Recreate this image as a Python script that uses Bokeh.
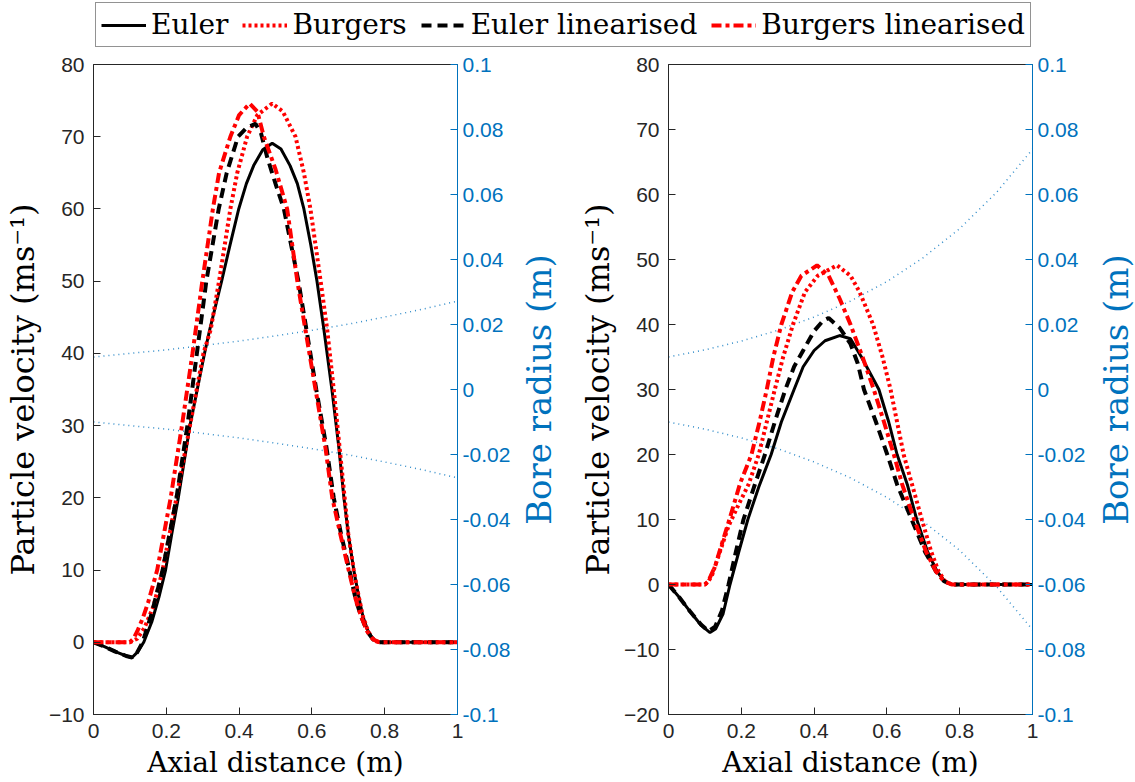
import math
from bokeh.plotting import figure
from bokeh.models import Range1d, LinearAxis, FixedTicker, Legend, LegendItem
from bokeh.core.properties import value
from bokeh.layouts import column, row
from bokeh.embed import file_html
from bokeh.resources import INLINE

# ---------------- data: left panel ----------------
L_euler_x = [0, 0.03, 0.06, 0.09, 0.106, 0.12, 0.138, 0.16, 0.18, 0.198, 0.215, 0.233, 0.265, 0.305, 0.318,
             0.352, 0.375, 0.399, 0.42, 0.44, 0.465, 0.491, 0.515, 0.54, 0.56, 0.578, 0.597, 0.614, 0.633,
             0.655, 0.674, 0.688, 0.70, 0.715, 0.728, 0.74, 0.753, 0.765, 0.778, 0.79, 0.9, 1.0]
L_euler_v = [0, -0.6, -1.3, -1.9, -2.1, -1.4, 0, 2.8, 6.3, 10, 15, 20, 30, 40, 43,
             50, 55, 60, 63.5, 66, 68.2, 69.1, 68.3, 66, 63.5, 60, 55, 50, 43.3,
             35, 27, 20, 15, 10, 6.5, 3.6, 1.7, 0.6, 0.1, 0, 0, 0]

L_burg_x = [0, 0.10, 0.12, 0.14, 0.165, 0.19, 0.228, 0.265, 0.302, 0.322, 0.345, 0.376, 0.395, 0.422, 0.45,
            0.491, 0.52, 0.555, 0.578, 0.596, 0.624, 0.642, 0.66, 0.676, 0.69, 0.70, 0.715, 0.728, 0.74,
            0.753, 0.765, 0.778, 0.79, 1.0]
L_burg_v = [0, 0, 0.5, 2, 5, 10, 20, 30, 40, 43.3, 50, 60, 65, 70, 73,
            74.6, 73.5, 70, 65, 60, 50, 43.3, 35, 27, 20, 15, 10, 6.5, 3.6,
            1.7, 0.6, 0.1, 0, 0]

L_elin_x = [0, 0.03, 0.06, 0.09, 0.106, 0.12, 0.135, 0.16, 0.19, 0.228, 0.258, 0.284, 0.31, 0.344, 0.366,
            0.397, 0.42, 0.445, 0.46, 0.477, 0.50, 0.523, 0.563, 0.585, 0.612, 0.64, 0.66, 0.68, 0.703,
            0.72, 0.735, 0.752, 0.768, 0.785, 1.0]
L_elin_v = [0, -0.6, -1.3, -1.9, -2.1, -1.4, 0, 4, 10, 20, 30, 40, 50, 60, 65,
            70, 71.2, 71.8, 70.5, 67.2, 63.5, 60, 50, 43.3, 35, 27, 20, 15, 10,
            6, 3.6, 1.5, 0.4, 0, 0]

L_blin_x = [0, 0.10, 0.11, 0.12, 0.135, 0.15, 0.175, 0.212, 0.243, 0.272, 0.299, 0.328, 0.345, 0.376, 0.40,
            0.429, 0.45, 0.468, 0.50, 0.532, 0.56, 0.582, 0.61, 0.637, 0.656, 0.678, 0.701, 0.72, 0.735,
            0.752, 0.768, 0.785, 1.0]
L_blin_v = [0, 0, 0.5, 1.5, 3.3, 5.5, 10, 20, 30, 40, 50, 60, 65, 70, 73,
            74.6, 73.5, 70, 65.5, 60, 50, 43.3, 35, 27, 20, 15, 10, 6, 3.6,
            1.5, 0.4, 0, 0]

# ---------------- data: right panel ----------------
R_euler_x = [0, 0.03, 0.06, 0.09, 0.114, 0.13, 0.15, 0.169, 0.193, 0.218, 0.248, 0.282, 0.31, 0.345, 0.37,
             0.40, 0.43, 0.47, 0.50, 0.53, 0.578, 0.605, 0.628, 0.656, 0.682, 0.712, 0.738, 0.758, 0.778, 1.0]
R_euler_v = [0, -2, -4.2, -6.3, -7.4, -6.8, -4.5, 0, 5, 10, 15, 20, 25, 30, 33.5,
             36, 37.5, 38.3, 37.8, 35, 30, 25, 20, 15.4, 10, 5, 2, 0.5, 0, 0]

R_burg_x = [0, 0.10, 0.11, 0.12, 0.138, 0.165, 0.19, 0.22, 0.248, 0.27, 0.292, 0.315, 0.342, 0.375, 0.41, 0.463,
            0.50, 0.525, 0.562, 0.588, 0.61, 0.628, 0.646, 0.669, 0.696, 0.722, 0.742, 0.76, 0.778, 1.0]
R_burg_v = [0, 0, 0.5, 1.5, 4.5, 9, 12, 15.4, 20, 25, 30, 35, 40, 45, 47.5, 49.1,
            47.5, 45, 40, 35, 30, 25, 20, 15.4, 10, 5, 2, 0.5, 0, 0]

R_elin_x = [0, 0.03, 0.06, 0.09, 0.11, 0.128, 0.147, 0.165, 0.185, 0.206, 0.235, 0.265, 0.292, 0.321, 0.345,
            0.37, 0.40, 0.425, 0.44, 0.47, 0.50, 0.52, 0.537, 0.57, 0.601, 0.628, 0.668, 0.705, 0.735, 0.757,
            0.778, 1.0]
R_elin_v = [0, -2, -4.2, -6.2, -7.2, -6.5, -4, 0, 5, 10, 15, 20, 25, 30, 33.5,
            36, 39, 40.6, 41, 39.5, 37, 34, 30, 25, 20, 15.4, 10, 5, 2, 0.5,
            0, 0]

R_blin_x = [0, 0.10, 0.108, 0.115, 0.128, 0.142, 0.17, 0.197, 0.228, 0.25, 0.27, 0.288, 0.31, 0.34, 0.365, 0.408,
            0.44, 0.47, 0.50, 0.533, 0.564, 0.592, 0.619, 0.642, 0.675, 0.708, 0.735, 0.757, 0.778, 1.0]
R_blin_v = [0, 0, 0.4, 1.2, 2.8, 5.4, 10.5, 15.6, 20, 25, 30, 35, 40, 45, 47.5, 49.1,
            47.5, 44, 40, 35, 30, 25, 20, 15.4, 10, 5, 2, 0.5, 0, 0]

# ---------------- bore radius ----------------
bore_x = [0, 0.1, 0.2, 0.3, 0.4, 0.5, 0.6, 0.7, 0.8, 0.9, 1.0]
L_bore_up = [0.010, 0.0111, 0.0122, 0.0135, 0.0149, 0.0165, 0.0182, 0.0201, 0.0223, 0.0246, 0.0272]
L_bore_lo = [-0.010, -0.0111, -0.0122, -0.0135, -0.0149, -0.0165, -0.0182, -0.0201, -0.0223, -0.0246, -0.0272]
R_bore_up = [0.010, 0.0122, 0.0149, 0.0182, 0.0223, 0.0272, 0.0332, 0.0406, 0.0495, 0.0605, 0.0739]
R_bore_lo = [-0.010, -0.0122, -0.0149, -0.0182, -0.0223, -0.0272, -0.0332, -0.0406, -0.0495, -0.0605, -0.0739]

x_ticks = [0, 0.2, 0.4, 0.6, 0.8, 1.0]
x_tick_labels = ["0", "0.2", "0.4", "0.6", "0.8", "1"]
r_ticks = [-0.1, -0.08, -0.06, -0.04, -0.02, 0, 0.02, 0.04, 0.06, 0.08, 0.1]
r_tick_labels = ["-0.1", "-0.08", "-0.06", "-0.04", "-0.02", "0", "0.02", "0.04", "0.06", "0.08", "0.1"]

series_names = ["Euler", "Burgers", "Euler linearised", "Burgers linearised"]
right_title = "Bore radius (m)"

BLUE = "#0072BD"
DARK = "#262626"
SERIF = "DejaVu Serif"
SANS = "Liberation Sans"

STYLES = [
    dict(line_color="black", line_width=3),
    dict(line_color="#FF0000", line_width=4, line_dash="3 3"),
    dict(line_color="black", line_width=4, line_dash="10 6"),
    dict(line_color="#FF0000", line_width=4, line_dash="10 4 4 4"),
]

TOP, BOTTOM = 16, 68


def make_panel(ymin, ymax, yticks, series, bore_up, bore_lo, bl, br):
    p = figure(frame_width=364, frame_height=650, x_range=Range1d(0, 1), y_range=Range1d(ymin, ymax),
               output_backend="svg", toolbar_location=None,
               min_border_left=bl, min_border_right=br, min_border_top=TOP, min_border_bottom=BOTTOM)
    p.background_fill_color = "white"
    p.border_fill_color = "white"
    p.xgrid.visible = False
    p.ygrid.visible = False
    p.outline_line_color = DARK
    p.outline_line_width = 1

    p.extra_y_ranges = {"bore": Range1d(-0.1, 0.1)}
    p.line(bore_x, bore_up, y_range_name="bore", line_color=BLUE, line_width=1.5, line_dash="1 4", line_alpha=0.8)
    p.line(bore_x, bore_lo, y_range_name="bore", line_color=BLUE, line_width=1.5, line_dash="1 4", line_alpha=0.8)

    for (xs, vs), st in zip(series, STYLES):
        p.line(xs, vs, **st)

    xa = p.xaxis[0]
    xa.ticker = FixedTicker(ticks=x_ticks)
    xa.major_label_overrides = {t: l for t, l in zip(x_ticks, x_tick_labels)}
    xa.axis_label = "Axial distance (m)"

    ya = p.yaxis[0]
    ya.ticker = FixedTicker(ticks=yticks)
    ya.axis_label = "Particle velocity (ms\u207b\u00b9)"

    ra = LinearAxis(y_range_name="bore")
    ra.ticker = FixedTicker(ticks=r_ticks)
    ra.major_label_overrides = {t: l for t, l in zip(r_ticks, r_tick_labels)}
    p.add_layout(ra, "right")

    for ax in (xa, ya, ra):
        ax.major_tick_in = 7
        ax.major_tick_out = 0
        ax.minor_tick_in = 0
        ax.minor_tick_out = 0
        ax.major_label_text_font = SANS
        ax.major_label_text_font_size = "21px"
        ax.axis_label_text_font = SERIF
        ax.axis_label_text_font_style = "normal"
        ax.axis_label_text_font_size = "28px"
        ax.axis_line_color = DARK
        ax.major_tick_line_color = DARK
        ax.major_label_text_color = DARK
        ax.axis_label_text_color = "black"
    ya.axis_label_text_font_size = "32px"
    xa.major_label_standoff = 9
    xa.axis_label_standoff = 5
    ya.major_label_standoff = 9
    ya.axis_label_standoff = 4
    ra.major_label_standoff = 5
    ra.axis_line_color = BLUE
    ra.major_tick_line_color = BLUE
    ra.major_label_text_color = BLUE
    return p


def make_side_title():
    t = figure(frame_width=40, frame_height=650, x_range=Range1d(0, 1), y_range=Range1d(0, 1),
               x_axis_type=None, y_axis_type=None, output_backend="svg", toolbar_location=None,
               min_border_left=0, min_border_right=0, min_border_top=TOP, min_border_bottom=BOTTOM)
    t.outline_line_color = None
    t.xgrid.visible = False
    t.ygrid.visible = False
    t.text(x=[0.5], y=[0.5], text=[right_title], angle=math.pi / 2,
           text_align="center", text_baseline="middle",
           text_font=value(SERIF), text_font_size="34px", text_color=BLUE)
    return t


p1 = make_panel(-10, 80, list(range(-10, 81, 10)),
                [(L_euler_x, L_euler_v), (L_burg_x, L_burg_v), (L_elin_x, L_elin_v), (L_blin_x, L_blin_v)],
                L_bore_up, L_bore_lo, 93, 61)
p2 = make_panel(-20, 80, list(range(-20, 81, 10)),
                [(R_euler_x, R_euler_v), (R_burg_x, R_burg_v), (R_elin_x, R_elin_v), (R_blin_x, R_blin_v)],
                R_bore_up, R_bore_lo, 110, 63)
t1 = make_side_title()
t2 = make_side_title()

# ---------------- legend strip ----------------
lg = figure(width=1135, height=48, x_range=Range1d(0, 1), y_range=Range1d(0, 1),
            x_axis_type=None, y_axis_type=None, output_backend="svg", toolbar_location=None,
            min_border=0)
lg.outline_line_color = None
lg.xgrid.visible = False
lg.ygrid.visible = False
items = []
for name, st in zip(series_names, STYLES):
    r = lg.line([-5, -4], [-5, -4], **st)
    items.append(LegendItem(label=name, renderers=[r]))
legend = Legend(items=items, orientation="horizontal", location=(95, 1),
                label_text_font=SERIF, label_text_font_size="28px", label_text_color="black",
                glyph_width=45, glyph_height=20, label_standoff=5, spacing=14,
                padding=5, margin=0, border_line_color=DARK, border_line_width=1.5,
                background_fill_alpha=1.0)
lg.add_layout(legend, "center")

layout = column(lg, row(p1, t1, p2, t2))
open("out.html", "w").write(file_html(layout, INLINE))
